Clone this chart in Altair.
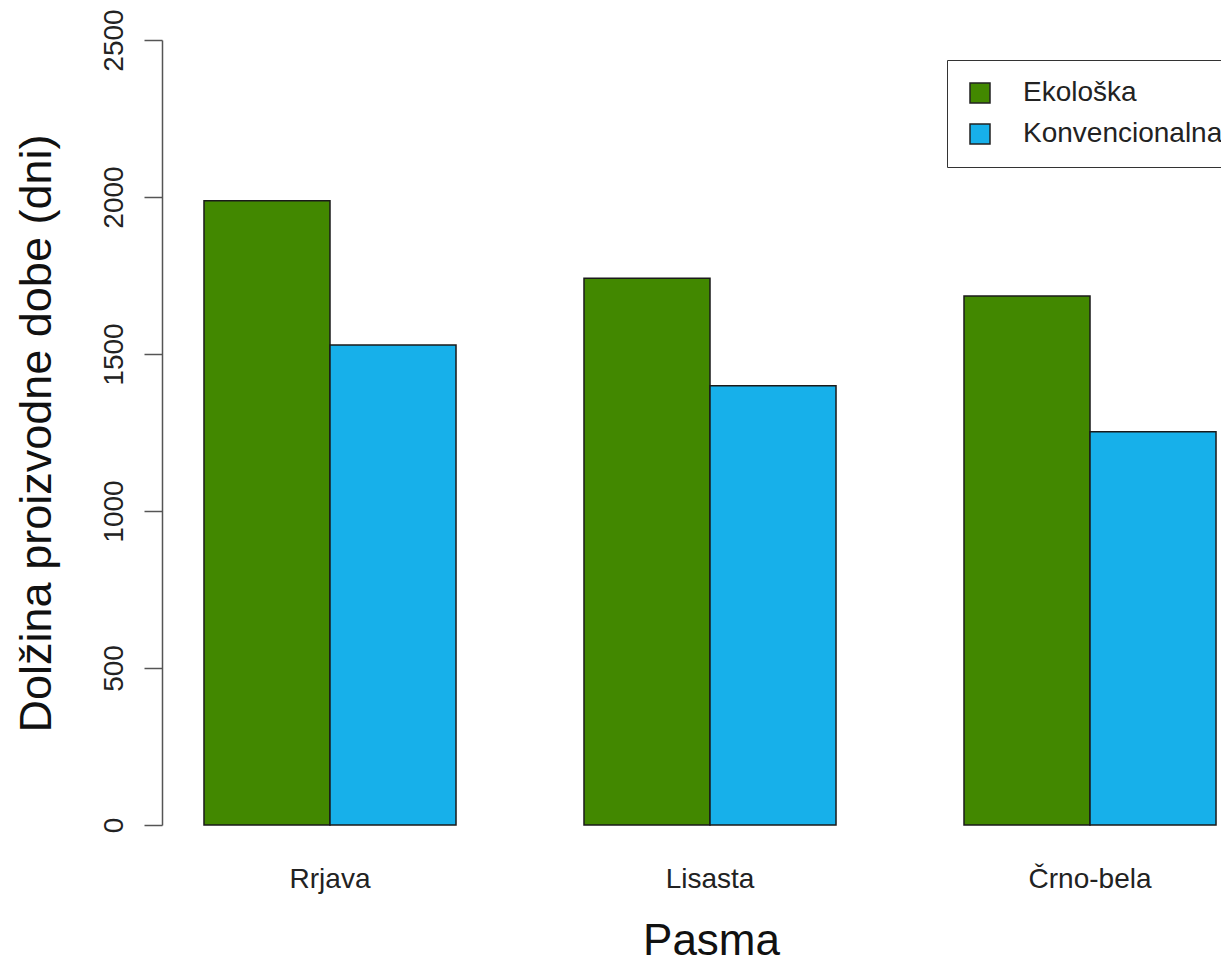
import altair as alt
import pandas as pd

pasme = ["Rrjava", "Lisasta", "Črno-bela"]
vrste = ["Ekološka", "Konvencionalna"]
ekoloska = [1988, 1741, 1685]
konvencionalna = [1529, 1399, 1252]
y_ticks = [0, 500, 1000, 1500, 2000, 2500]
barve = ["#428800", "#17B0EA"]

rows = []
for i, p in enumerate(pasme):
    rows.append({"Pasma": p, "Vrsta": vrste[0], "Dni": ekoloska[i]})
    rows.append({"Pasma": p, "Vrsta": vrste[1], "Dni": konvencionalna[i]})
df = pd.DataFrame(rows)

FONT = "Liberation Sans"

chart = alt.Chart(df).mark_bar(stroke="#1a1a1a", strokeWidth=1.5).encode(
    x=alt.X(
        "Pasma:N",
        sort=pasme,
        scale=alt.Scale(paddingInner=0.3368, paddingOuter=0.0618, align=0.894),
        axis=alt.Axis(
            title="Pasma",
            labelAngle=0,
            labelFontSize=28,
            labelFont=FONT,
            labelColor="#222222",
            labelBaseline="alphabetic",
            labelPadding=62,
            ticks=False,
            tickSize=0,
            domain=False,
            titleFont=FONT,
            titleFontSize=44,
            titleFontWeight="normal",
            titleColor="#111111",
            titleX=549,
            titleY=129,
            titleAlign="center",
            titleBaseline="alphabetic",
        ),
    ),
    xOffset=alt.XOffset("Vrsta:N", sort=vrste, scale=alt.Scale(paddingInner=0, paddingOuter=0)),
    y=alt.Y(
        "Dni:Q",
        scale=alt.Scale(domain=[0, 2500], nice=False),
        axis=alt.Axis(
            title="Dolžina proizvodne dobe (dni)",
            values=y_ticks,
            format="d",
            grid=False,
            labelAngle=270,
            labelAlign="center",
            labelBaseline="alphabetic",
            labelFontSize=28,
            labelFont=FONT,
            labelColor="#222222",
            labelPadding=22,
            tickSize=18,
            tickColor="#555555",
            tickWidth=1.5,
            domainColor="#555555",
            domainWidth=1.5,
            titleFont=FONT,
            titleFontSize=45,
            titleFontWeight="normal",
            titleColor="#111111",
            titleAngle=270,
            titleX=-112,
            titleY=393,
            titleAlign="center",
            titleBaseline="alphabetic",
        ),
    ),
    color=alt.Color(
        "Vrsta:N",
        sort=vrste,
        scale=alt.Scale(domain=vrste, range=barve),
        legend=alt.Legend(
            title=None,
            orient="none",
            legendX=785,
            legendY=20,
            strokeColor="#333333",
            fillColor="white",
            padding=19,
            symbolType="square",
            symbolSize=400,
            symbolStrokeColor="#222222",
            symbolStrokeWidth=1.5,
            symbolOpacity=1,
            labelFont=FONT,
            labelFontSize=28,
            labelColor="#222222",
            labelOffset=29,
            labelLimit=0,
            rowPadding=13,
        ),
    ),
).properties(
    width=1059,
    height=785,
    autosize=alt.AutoSizeParams(type="none"),
    padding={"left": 154, "top": 32, "right": 0, "bottom": 135},
).configure_view(stroke=None)

chart.save("out.html", embed_options={"renderer": "svg", "actions": False})
